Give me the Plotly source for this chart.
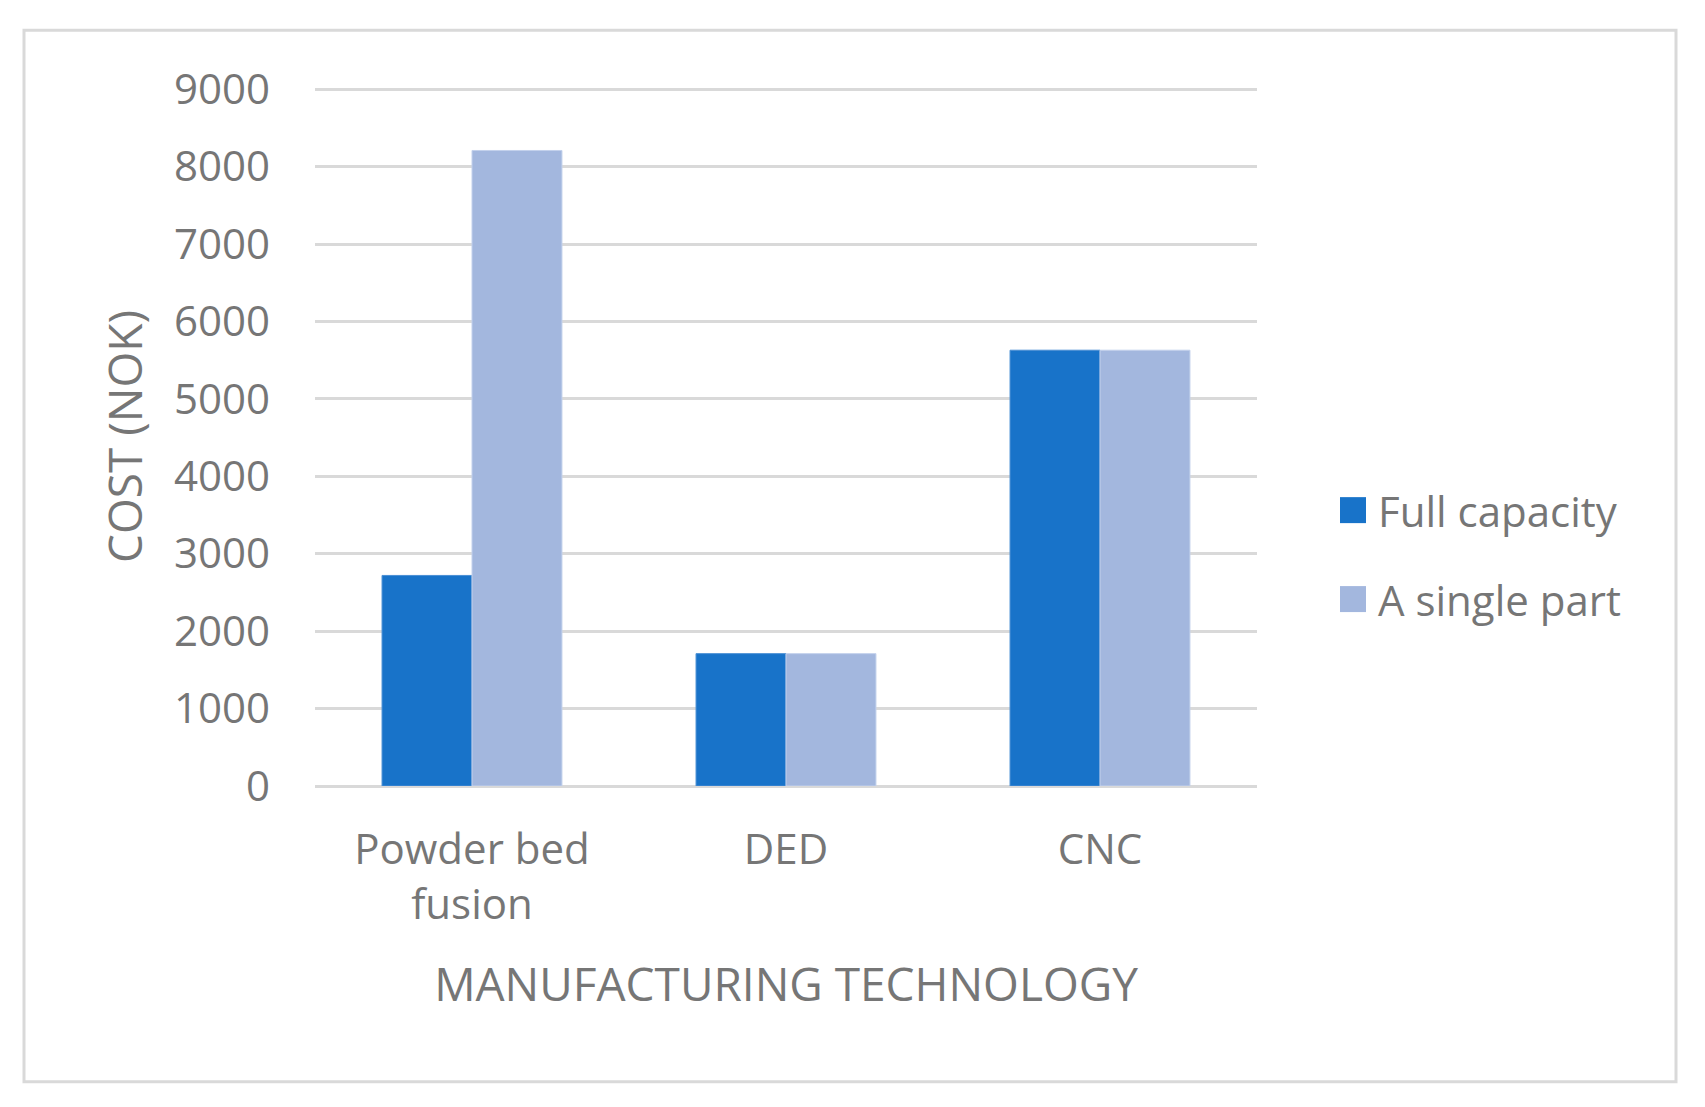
import plotly.graph_objects as go

categories = ["Powder bed<br>fusion", "DED", "CNC"]
full_capacity = [2720, 1710, 5630]
single_part = [8210, 1710, 5630]
series_names = ["Full capacity", "A single part"]
y_ticks = [0, 1000, 2000, 3000, 4000, 5000, 6000, 7000, 8000, 9000]

FONT = "Open Sans"
TXT = "#767676"
C1 = "#1873C9"
C2 = "#A3B7DE"

OFF = 8  # page body margin
W, H = 1705, 1107
YMAX = 9030
PX_PER = (786 - 89) / 9000.0
L, R, B = 315 - OFF, 1257 - OFF, 786 - OFF
T = B - YMAX * PX_PER

pw = R - L
ph = B - T
def px(x):
    return (x - OFF - L) / pw
def py(y):
    return (B - (y - OFF)) / ph

fig = go.Figure()
fig.add_trace(go.Bar(x=categories, y=full_capacity, name=series_names[0],
                     marker=dict(color=C1, line=dict(color="#4a8fd4", width=1)),
                     showlegend=False))
fig.add_trace(go.Bar(x=categories, y=single_part, name=series_names[1],
                     marker=dict(color=C2, line=dict(color="#c3d1ec", width=1)),
                     showlegend=False))

shapes = [
    dict(type="rect", xref="paper", yref="paper",
         x0=px(24), x1=px(1676), y0=py(1082), y1=py(30),
         line=dict(color="#d9d9d9", width=3), layer="below"),
]
annotations = []
leg_y = [510, 599]
for i, (name, col) in enumerate(zip(series_names, [C1, C2])):
    yc = leg_y[i]
    shapes.append(dict(type="rect", xref="paper", yref="paper",
                       x0=px(1340), x1=px(1366), y0=py(yc + 13), y1=py(yc - 13),
                       fillcolor=col, line=dict(width=0)))
    annotations.append(dict(text=name, xref="paper", yref="paper",
                            x=px(1376), y=py(yc), xanchor="left", yanchor="middle",
                            showarrow=False, font=dict(family=FONT, size=42, color=TXT)))

fig.update_layout(
    width=W, height=H,
    margin=dict(l=L, r=W - R, t=T, b=H - B, autoexpand=False),
    plot_bgcolor="white", paper_bgcolor="white",
    barmode="group", bargap=0.427, bargroupgap=0,
    font=dict(family=FONT, color=TXT, size=42),
    shapes=shapes, annotations=annotations,
    showlegend=False,
)
fig.update_xaxes(
    showgrid=False, showline=False, zeroline=False, ticks="",
    tickfont=dict(family=FONT, size=42, color=TXT),
    ticklabelstandoff=35,
    title=dict(text="MANUFACTURING TECHNOLOGY", font=dict(family=FONT, size=46, color=TXT), standoff=39),
    automargin=False,
)
fig.update_yaxes(
    range=[0, YMAX], tickvals=y_ticks, ticktext=[str(v) for v in y_ticks],
    showgrid=True, gridcolor="#d9d9d9", gridwidth=3,
    zeroline=True, zerolinecolor="#d9d9d9", zerolinewidth=3,
    showline=False, ticks="",
    tickfont=dict(family=FONT, size=42, color=TXT),
    ticklabelstandoff=44,
    title=dict(text="COST (NOK)", font=dict(family=FONT, size=46, color=TXT), standoff=16),
    automargin=False,
)

fig.write_html("out.html")
